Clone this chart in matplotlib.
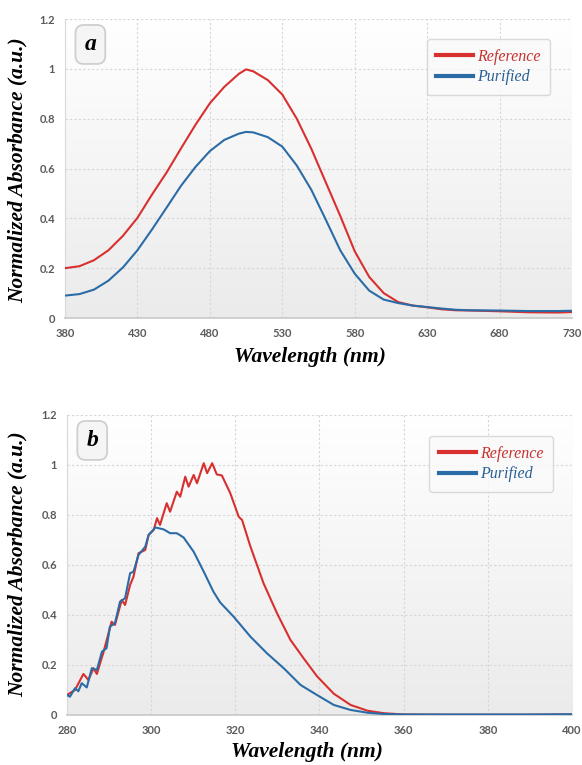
import numpy as np
import matplotlib
matplotlib.use("Agg")
import matplotlib.pyplot as plt
from matplotlib.ticker import FuncFormatter

# ───── DATA ─────
# panel a: visible range
wl_a = [380, 390, 400, 410, 420, 430, 440, 450, 460, 470, 480, 490, 500, 505, 510,
        520, 530, 540, 550, 560, 570, 580, 590, 600, 610, 620, 630, 640, 650, 660,
        680, 700, 720, 730]
ref_a = [0.200, 0.208, 0.232, 0.272, 0.330, 0.402, 0.495, 0.583, 0.680, 0.775, 0.862,
         0.928, 0.980, 0.998, 0.990, 0.955, 0.897, 0.800, 0.680, 0.545, 0.410, 0.268,
         0.165, 0.100, 0.064, 0.050, 0.043, 0.035, 0.031, 0.030, 0.027, 0.023, 0.022, 0.024]
pur_a = [0.090, 0.096, 0.114, 0.150, 0.203, 0.272, 0.355, 0.442, 0.530, 0.606, 0.670,
         0.715, 0.740, 0.747, 0.745, 0.726, 0.688, 0.612, 0.515, 0.395, 0.272, 0.178,
         0.110, 0.074, 0.060, 0.050, 0.044, 0.038, 0.033, 0.031, 0.030, 0.028, 0.028, 0.029]

# panel b: UV range
wl_b_ref = [280, 281.9, 283.9, 285.1, 286.3, 287.1, 288.6, 290.6, 291.4, 293, 293.8,
            295, 295.8, 297, 298.6, 299.4, 300.6, 301.4, 302.1, 303.7, 304.5, 306.1,
            306.9, 308.1, 308.9, 310.1, 310.9, 312.5, 313.3, 314.5, 315.6, 316.8, 318.8,
            320.8, 321.6, 323.6, 326.7, 329.9, 333.1, 336.3, 339.4, 343.4, 347.4, 351.4,
            355.3, 360, 370, 380, 390, 400]
ref_b = [0.080, 0.100, 0.164, 0.140, 0.187, 0.164, 0.247, 0.373, 0.360, 0.460, 0.440,
         0.520, 0.553, 0.647, 0.660, 0.720, 0.740, 0.787, 0.760, 0.847, 0.813, 0.893,
         0.873, 0.953, 0.913, 0.960, 0.927, 1.007, 0.967, 1.007, 0.962, 0.958, 0.887,
         0.793, 0.780, 0.673, 0.527, 0.407, 0.300, 0.225, 0.155, 0.085, 0.040, 0.017,
         0.007, 0.002, 0.001, 0.001, 0.001, 0.002]
wl_b_pur = [280, 280.7, 281.9, 282.7, 283.5, 284.7, 285.9, 287.1, 288.3, 289.4, 290.2,
            291.4, 292.6, 293.8, 295, 295.8, 297, 298.6, 299.4, 301, 303, 304.5, 306.1,
            307.7, 310.1, 312.5, 314.8, 316.4, 319.6, 323.6, 327.5, 331.5, 335.5, 339.4,
            343.4, 347.4, 351.4, 355.3, 360, 370, 380, 390, 400]
pur_b = [0.080, 0.073, 0.107, 0.095, 0.127, 0.110, 0.187, 0.180, 0.253, 0.267, 0.353,
         0.367, 0.453, 0.467, 0.567, 0.573, 0.640, 0.673, 0.720, 0.750, 0.742, 0.727,
         0.727, 0.710, 0.653, 0.573, 0.493, 0.450, 0.393, 0.313, 0.247, 0.187, 0.120,
         0.080, 0.040, 0.020, 0.009, 0.004, 0.002, 0.002, 0.002, 0.002, 0.003]

xticks_a = [380, 430, 480, 530, 580, 630, 680, 730]
xticks_b = [280, 300, 320, 340, 360, 380, 400]
yticks = [0, 0.2, 0.4, 0.6, 0.8, 1.0, 1.2]

RED = "#d8302f"
BLUE = "#2b6ca6"
SERIF = ["Liberation Serif", "DejaVu Serif"]

fig = plt.figure(figsize=(5.82, 7.65), dpi=100)
fig.patch.set_facecolor("white")

# gradient for the plot background (white at the top, light grey at the bottom)
grad = np.linspace(0, 1, 256).reshape(-1, 1)
bg_cmap = matplotlib.colors.LinearSegmentedColormap.from_list("bg", ["#ffffff", "#ebebeb"])


def make_panel(rect, wl_r, yr, wl_p, yp, xlim, xticks, tag, leg_anchor):
    ax = fig.add_axes(rect)
    ax.imshow(grad, extent=[0, 1, 0, 1], transform=ax.transAxes, aspect="auto",
              cmap=bg_cmap, zorder=0)
    ax.plot(wl_r, yr, color=RED, lw=1.5, label="Reference", zorder=3)
    ax.plot(wl_p, yp, color=BLUE, lw=1.5, label="Purified", zorder=3)
    ax.set_xlim(*xlim)
    ax.set_ylim(0, 1.2)
    ax.set_xticks(xticks)
    ax.set_yticks(yticks)
    ax.yaxis.set_major_formatter(FuncFormatter(lambda v, p: f"{v:g}"))
    ax.grid(True, color="#d6d6d6", ls=(0, (2, 2)), lw=0.8, zorder=1)
    ax.set_axisbelow(True)
    for s in ["top", "right"]:
        ax.spines[s].set_visible(False)
    ax.spines["left"].set_color("#d9d9d9")
    ax.spines["bottom"].set_color("#c8c8c8")
    ax.spines["bottom"].set_linewidth(1.2)
    ax.tick_params(length=0, pad=7, labelsize=8, labelcolor="#5a5a5a")
    for lab in ax.get_xticklabels() + ax.get_yticklabels():
        lab.set_fontweight("bold")
        lab.set_family(["Lato", "DejaVu Sans"])

    ax.text(0.05, 0.915, tag, transform=ax.transAxes, ha="center", va="center",
            fontsize=17, fontweight="bold", style="italic", family=SERIF, zorder=5,
            bbox=dict(boxstyle="round,pad=0.38,rounding_size=0.35", fc="#f5f5f5",
                      ec="#cfcfcf", lw=1.3))

    leg = ax.legend(loc="upper right", bbox_to_anchor=leg_anchor, borderaxespad=0,
                    frameon=True, fancybox=True, handlelength=2.3, handletextpad=0.25,
                    borderpad=0.6, labelspacing=0.3,
                    prop=dict(family=SERIF, style="italic", size=11.5))
    leg.get_frame().set_edgecolor("#d2d2d2")
    leg.get_frame().set_facecolor("#fafafa")
    leg.get_frame().set_linewidth(1.0)
    for line in leg.get_lines():
        line.set_linewidth(3)
    leg.get_texts()[0].set_color("#c8322e")
    leg.get_texts()[1].set_color("#2a5f96")
    return ax


ax_a = make_panel([0.1117, 0.5843, 0.8711, 0.3908], wl_a, ref_a, wl_a, pur_a,
                  (380, 730), xticks_a, "a", (0.957, 0.933))
ax_b = make_panel([0.1151, 0.0654, 0.8677, 0.3922], wl_b_ref, ref_b, wl_b_pur, pur_b,
                  (280, 400), xticks_b, "b", (0.962, 0.93))

lab_kw = dict(fontsize=15.5, fontweight="bold", style="italic", family=SERIF)
fig.text(0.533, 0.533, "Wavelength (nm)", ha="center", va="center", **lab_kw)
fig.text(0.528, 0.017, "Wavelength (nm)", ha="center", va="center", **lab_kw)
fig.text(0.030, 0.778, "Normalized Absorbance (a.u.)", ha="center", va="center",
         rotation=90, **lab_kw)
fig.text(0.030, 0.262, "Normalized Absorbance (a.u.)", ha="center", va="center",
         rotation=90, **lab_kw)

fig.savefig("out.png", dpi=100)
